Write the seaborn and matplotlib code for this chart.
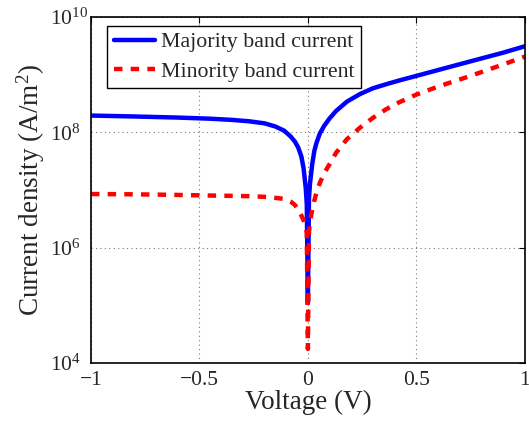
import numpy as np
import pandas as pd
import seaborn as sns
import matplotlib
matplotlib.use("Agg")
import matplotlib.pyplot as plt

# ---- data ----
voltage = [-1.0, -0.8, -0.6, -0.45, -0.35, -0.27, -0.2, -0.15, -0.11, -0.08, -0.06,
           -0.045, -0.03, -0.02, -0.01, -0.005, 0.0, 0.005, 0.01, 0.02, 0.03, 0.04,
           0.055, 0.075, 0.1, 0.13, 0.18, 0.24, 0.3, 0.36, 0.42, 0.5, 0.6, 0.75, 0.9, 1.0]
majority = [1.95e8, 1.88e8, 1.80e8, 1.72e8, 1.64e8, 1.55e8, 1.43e8, 1.26e8, 1.07e8, 8.5e7, 6.9e7,
            5.5e7, 3.8e7, 2.4e7, 1.1e7, 5.6e6, 1.1e5, 7.1e6, 1.32e7, 2.8e7, 4.8e7, 6.6e7,
            9.5e7, 1.29e8, 1.74e8, 2.34e8, 3.4e8, 4.6e8, 5.8e8, 6.8e8, 7.9e8, 9.5e8, 1.2e9,
            1.7e9, 2.4e9, 3.1e9]
minority = [8.5e6, 8.4e6, 8.2e6, 8.0e6, 7.9e6, 7.8e6, 7.6e6, 7.3e6, 7.0e6, 6.3e6, 5.5e6,
            4.6e6, 3.6e6, 3.0e6, 2.3e6, 1.8e6, 1.75e4, 1.86e6, 2.8e6, 4.5e6, 6.6e6, 9.1e6,
            1.32e7, 1.95e7, 2.8e7, 4.4e7, 7.6e7, 1.2e8, 1.78e8, 2.5e8, 3.3e8, 4.5e8, 6.2e8,
            9.5e8, 1.5e9, 2.05e9]
series_names = ["Majority band current", "Minority band current"]
x_ticks = [-1, -0.5, 0, 0.5, 1]
x_tick_labels = ["\u22121", "\u22120.5", "0", "0.5", "1"]
y_ticks = [1e4, 1e6, 1e8, 1e10]
y_tick_labels = [r"$10^{4}$", r"$10^{6}$", r"$10^{8}$", r"$10^{10}$"]

df = pd.concat([
    pd.DataFrame({"Voltage": voltage, "Current": majority, "Series": series_names[0]}),
    pd.DataFrame({"Voltage": voltage, "Current": minority, "Series": series_names[1]}),
], ignore_index=True)

sns.set_style("white")
plt.rcParams["font.family"] = ["Liberation Serif", "DejaVu Serif"]
plt.rcParams["mathtext.fontset"] = "custom"
plt.rcParams["mathtext.rm"] = "Liberation Serif"
plt.rcParams["mathtext.it"] = "Liberation Serif:italic"
plt.rcParams["mathtext.default"] = "regular"

fig = plt.figure(figsize=(5.29, 4.24), dpi=100)
ax = fig.add_axes([0.172, 0.144, 0.820, 0.816])

sns.lineplot(data=df, x="Voltage", y="Current", hue="Series", style="Series",
             palette={series_names[0]: "#0000ff", series_names[1]: "#ff0000"},
             dashes={series_names[0]: "", series_names[1]: (1.9, 1.85)},
             linewidth=3.2, legend=False, ax=ax, sort=False, estimator=None)

ax.set_yscale("log")
ax.set_xlim(-1, 1)
ax.set_ylim(1e4, 1e10)
ax.set_xticks(x_ticks)
ax.set_xticklabels(x_tick_labels)
ax.set_yticks(y_ticks)
ax.set_yticklabels(y_tick_labels)
ax.yaxis.set_minor_locator(matplotlib.ticker.NullLocator())

ax.tick_params(axis="both", which="major", direction="in", length=4, width=0.8,
               top=True, right=True, labelsize=15.5, color="black")
ax.tick_params(axis="x", pad=5.5)
ax.tick_params(axis="y", pad=29.5)
for lbl in ax.get_yticklabels():
    lbl.set_horizontalalignment("left")

ax.grid(True, which="major", linestyle=(0, (1, 3)), color="#777777", linewidth=0.8)
for sp in ax.spines.values():
    sp.set_visible(True)
    sp.set_color("black")
    sp.set_linewidth(1.2)

ax.set_xlabel("Voltage (V)", fontsize=19.5, labelpad=0)
ax.set_ylabel("Current density (A/m$^2$)", fontsize=19.5, labelpad=2)

lines = ax.get_lines()[:2]
leg = ax.legend(lines, series_names, loc="upper left", bbox_to_anchor=(0.037, 0.975),
                borderaxespad=0, fontsize=15.75, frameon=True, fancybox=False,
                edgecolor="black", framealpha=1, handlelength=1.9, handletextpad=0.25,
                labelspacing=0.4, borderpad=0.3)
leg.get_frame().set_linewidth(1.0)

fig.savefig("out.png", dpi=100)
